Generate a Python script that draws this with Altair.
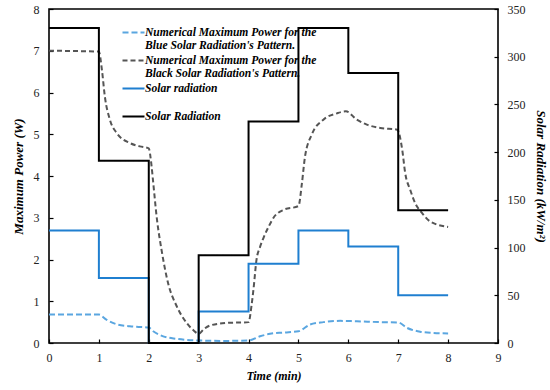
import altair as alt
import pandas as pd

# ---- data ----
time_steps = [0, 1, 2, 3, 4, 5, 6, 7, 8]
black_radiation = [330, 191, 0, 92, 232, 330, 283, 139, 139]
blue_radiation = [118, 68, 0, 33, 83, 118, 101, 50, 50]

black_power_t = [0, 1.0, 1.06, 1.12, 1.22, 1.35, 1.62, 1.82, 2.0, 2.05, 2.09, 2.16, 2.26, 2.39,
                 2.56, 2.76, 2.9, 3.0, 3.1, 3.23, 3.56, 4.0, 4.06, 4.1, 4.16, 4.23, 4.3, 4.4,
                 4.5, 4.7, 5.0, 5.07, 5.13, 5.27, 5.5, 5.77, 5.95, 6.17, 6.37, 6.64, 6.98,
                 7.08, 7.14, 7.24, 7.34, 7.48, 7.64, 8.0]
black_power_v = [7.0, 6.98, 6.55, 5.9, 5.35, 5.04, 4.79, 4.71, 4.66, 4.3, 3.83, 3.0, 2.2, 1.42,
                 0.88, 0.48, 0.3, 0.22, 0.33, 0.42, 0.48, 0.5, 0.9, 1.3, 2.0, 2.3, 2.52, 2.78,
                 3.0, 3.19, 3.28, 3.83, 4.45, 5.0, 5.35, 5.5, 5.55, 5.35, 5.23, 5.15, 5.11,
                 4.63, 4.07, 3.67, 3.35, 3.11, 2.91, 2.78]

blue_power_t = [0, 1.0, 1.15, 1.35, 1.62, 2.0, 2.09, 2.29, 2.56, 3.0, 3.5, 4.0, 4.23, 4.43,
                4.7, 5.0, 5.23, 5.5, 5.84, 6.17, 6.64, 7.0, 7.18, 7.44, 7.71, 8.0]
blue_power_v = [0.68, 0.68, 0.56, 0.45, 0.40, 0.37, 0.28, 0.16, 0.10, 0.06, 0.05, 0.06, 0.16,
                0.22, 0.25, 0.28, 0.44, 0.50, 0.53, 0.52, 0.50, 0.49, 0.36, 0.27, 0.24, 0.23]

x_ticks = list(range(0, 10))
left_ticks = list(range(0, 9))
right_ticks = list(range(0, 351, 50))

series_names = [
    "Numerical Maximum Power for the|Blue Solar Radiation's Pattern.",
    "Numerical Maximum Power for the|Black Solar Radiation's Pattern.",
    "Solar radiation",
    "Solar Radiation",
]
series_colors = ["#5aa6e0", "#555555", "#1f7fd0", "#000000"]
series_dash = [[6, 3], [5, 3], [1, 0], [1, 0]]

power_df = pd.concat([
    pd.DataFrame({"t": blue_power_t, "v": blue_power_v, "series": series_names[0]}),
    pd.DataFrame({"t": black_power_t, "v": black_power_v, "series": series_names[1]}),
])
rad_df = pd.concat([
    pd.DataFrame({"t": time_steps, "v": blue_radiation, "series": series_names[2]}),
    pd.DataFrame({"t": time_steps, "v": black_radiation, "series": series_names[3]}),
])

color_scale = alt.Scale(domain=series_names, range=series_colors)
dash_scale = alt.Scale(domain=series_names, range=series_dash)
legend = alt.Legend(
    title=None, orient="none", legendX=78, legendY=17, symbolType="M-2,0H2",
    symbolSize=121, symbolStrokeWidth=2, symbolFillColor="transparent",
    labelFont="Liberation Serif", labelFontSize=11.6,
    labelFontStyle="italic", labelFontWeight="bold", labelColor="black",
    labelLimit=400, labelExpr="split(datum.label, '|')", gridAlign="all",
    rowPadding=2, padding=0, labelOffset=5,
)

x_enc = alt.X("t:Q", scale=alt.Scale(domain=[0, 9], nice=False),
              axis=alt.Axis(values=x_ticks, title="Time (min)", titlePadding=7, labelPadding=9))

power = alt.Chart(power_df).mark_line(interpolate="monotone", strokeWidth=2).encode(
    x=x_enc,
    y=alt.Y("v:Q", scale=alt.Scale(domain=[0, 8], nice=False),
            axis=alt.Axis(values=left_ticks, orient="left", title="Maximum Power (W)",
                          titlePadding=8, labelPadding=10, titleFontSize=13)),
    color=alt.Color("series:N", scale=color_scale, legend=legend),
    strokeDash=alt.StrokeDash("series:N", scale=dash_scale, legend=legend),
    detail="series:N",
)

rad = alt.Chart(rad_df).mark_line(interpolate="step-after", strokeWidth=2).encode(
    x=x_enc,
    y=alt.Y("v:Q", scale=alt.Scale(domain=[0, 350], nice=False),
            axis=alt.Axis(values=right_ticks, orient="right", title="Solar Radiation (kW/m²)",
                          titlePadding=8, labelPadding=9, titleFontSize=13)),
    color=alt.Color("series:N", scale=color_scale, legend=legend),
    strokeDash=alt.StrokeDash("series:N", scale=dash_scale, legend=legend),
    detail="series:N",
)

chart = alt.layer(power, rad).resolve_scale(y="independent").properties(
    width=449, height=334,
    autosize=alt.AutoSizeParams(type="none"),
    padding={"left": 49, "top": 9, "right": 52, "bottom": 47},
).configure_view(stroke="black", strokeWidth=1.6).configure_axis(
    domain=False, offset=-4, tickSize=4, tickColor="black", tickWidth=1.2,
    labelFont="Liberation Serif", labelFontSize=12, labelColor="#222222",
    titleFont="Liberation Serif", titleFontSize=12, titleFontStyle="italic",
    titleFontWeight="bold", titleColor="black", labelFlush=False, grid=False,
)

chart.save("out.html", embed_options={"renderer": "svg", "actions": False})
